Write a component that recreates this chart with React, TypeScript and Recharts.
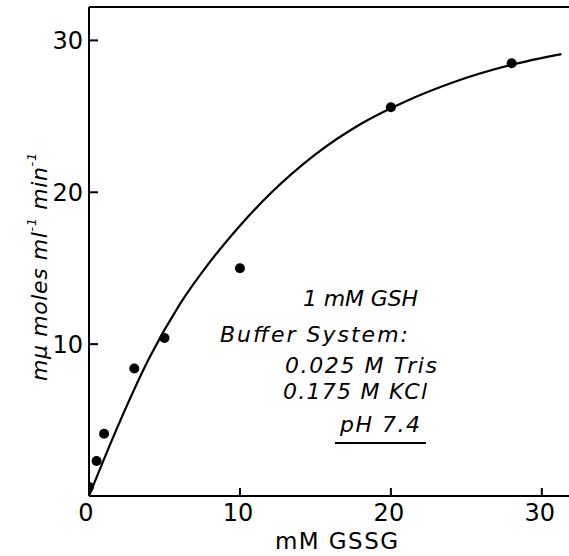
import React from "react";
import {
  ComposedChart,
  XAxis,
  YAxis,
  Line,
  Scatter,
  ReferenceLine,
} from "recharts";

// Measured points (mM GSSG vs mµ moles ml-1 min-1)
const gssgPoints = [0, 0.5, 1, 3, 5, 10, 20, 28];
const ratePoints = [0.6, 2.3, 4.1, 8.4, 10.4, 15.0, 25.6, 28.5];

// Fitted curve
const curveX = [0, 2, 4, 6, 8, 10, 12, 15, 18, 21, 24, 28, 31.3];
const curveY = [0, 4.8, 9.1, 12.6, 15.4, 17.8, 19.9, 22.5, 24.5, 26.0, 27.2, 28.4, 29.1];

const xTicks = [0, 10, 20, 30];
const yTicks = [10, 20, 30];

const annotationLines = ["1 mM GSH", "Buffer System:", "0.025 M Tris", "0.175 M KCl", "pH 7.4"];

const pointData = gssgPoints.map((x, i) => ({ x, y: ratePoints[i] }));
const curveData = curveX.map((x, i) => ({ x, y: curveY[i] }));

const FONT = "'DejaVu Sans', 'Liberation Sans', sans-serif";

const YTick = (props: any) => {
  const { x, y, payload } = props;
  return (
    <g>
      <line x1={x} y1={y} x2={x + 9} y2={y} stroke="#000" strokeWidth={2} />
      <text x={x - 6} y={y} dy="0.36em" textAnchor="end" fontFamily={FONT} fontSize={24} fill="#000">
        {payload.value}
      </text>
    </g>
  );
};

const XTick = (props: any) => {
  const { x, y, payload } = props;
  return (
    <g>
      {payload.value !== 0 && (
        <line x1={x} y1={y} x2={x} y2={y - 8} stroke="#000" strokeWidth={2} />
      )}
      <text x={payload.value === 0 ? x - 3 : x - 2} y={y + 25} textAnchor="middle" fontFamily={FONT} fontSize={24} fill="#000">
        {payload.value}
      </text>
    </g>
  );
};

const Dot = (props: any) => {
  const { cx, cy } = props;
  return <circle cx={cx} cy={cy} r={5} fill="#000" />;
};

const annX = [303, 220, 285, 283, 340];
const annY = [306, 342, 373, 399, 432];
const annW = [115, 188, 152, 144, 80];

export default function App() {
  return (
    <div style={{ position: "absolute", left: 0, top: 0, width: 569, height: 556, background: "#fff" }}>
      <ComposedChart
        width={569}
        height={556}
        margin={{ top: 7, right: 0, bottom: 0, left: 0 }}
      >
        <XAxis
          type="number"
          dataKey="x"
          domain={[0, 31.8]}
          ticks={xTicks}
          allowDataOverflow
          height={60}
          tickSize={0}
          tickMargin={0}
          tickLine={false}
          tick={<XTick />}
          axisLine={{ stroke: "#000", strokeWidth: 2 }}
        />
        <YAxis
          type="number"
          dataKey="y"
          domain={[0, 32.2]}
          ticks={yTicks}
          allowDataOverflow
          width={89}
          tickSize={0}
          tickMargin={0}
          tickLine={false}
          tick={<YTick />}
          axisLine={{ stroke: "#000", strokeWidth: 2 }}
        />
        <ReferenceLine y={32.2} stroke="#000" strokeWidth={2} />
        <Line
          data={curveData}
          dataKey="y"
          type="monotone"
          stroke="#000"
          strokeWidth={2.2}
          dot={false}
          activeDot={false}
          isAnimationActive={false}
        />
        <Scatter
          data={pointData}
          dataKey="y"
          fill="#000"
          shape={<Dot />}
          isAnimationActive={false}
        />
      </ComposedChart>
      <svg
        width={569}
        height={556}
        style={{ position: "absolute", left: 0, top: 0, pointerEvents: "none" }}
      >
        {annotationLines.map((t, i) => (
          <text
            key={i}
            x={annX[i]}
            y={annY[i]}
            fontFamily={FONT}
            fontStyle="italic"
            fontSize={22}
            textLength={annW[i]}
            lengthAdjust="spacing"
            fill="#000"
          >
            {t}
          </text>
        ))}
        <line x1={335} y1={443} x2={426} y2={443} stroke="#000" strokeWidth={2} />
        <text
          x={275}
          y={549}
          fontFamily={FONT}
          fontSize={23}
          textLength={123}
          lengthAdjust="spacing"
          fill="#000"
        >
          mM GSSG
        </text>
        <text
          x={47}
          y={381}
          transform="rotate(-90, 47, 381)"
          fontFamily={FONT}
          fontStyle="italic"
          fontSize={22}
          letterSpacing={0.6}
          fill="#000"
        >
          mμ moles ml
          <tspan dy={-11} fontSize={13}>-1</tspan>
          <tspan dy={11}> min</tspan>
          <tspan dy={-11} fontSize={13}>-1</tspan>
        </text>
      </svg>
    </div>
  );
}
